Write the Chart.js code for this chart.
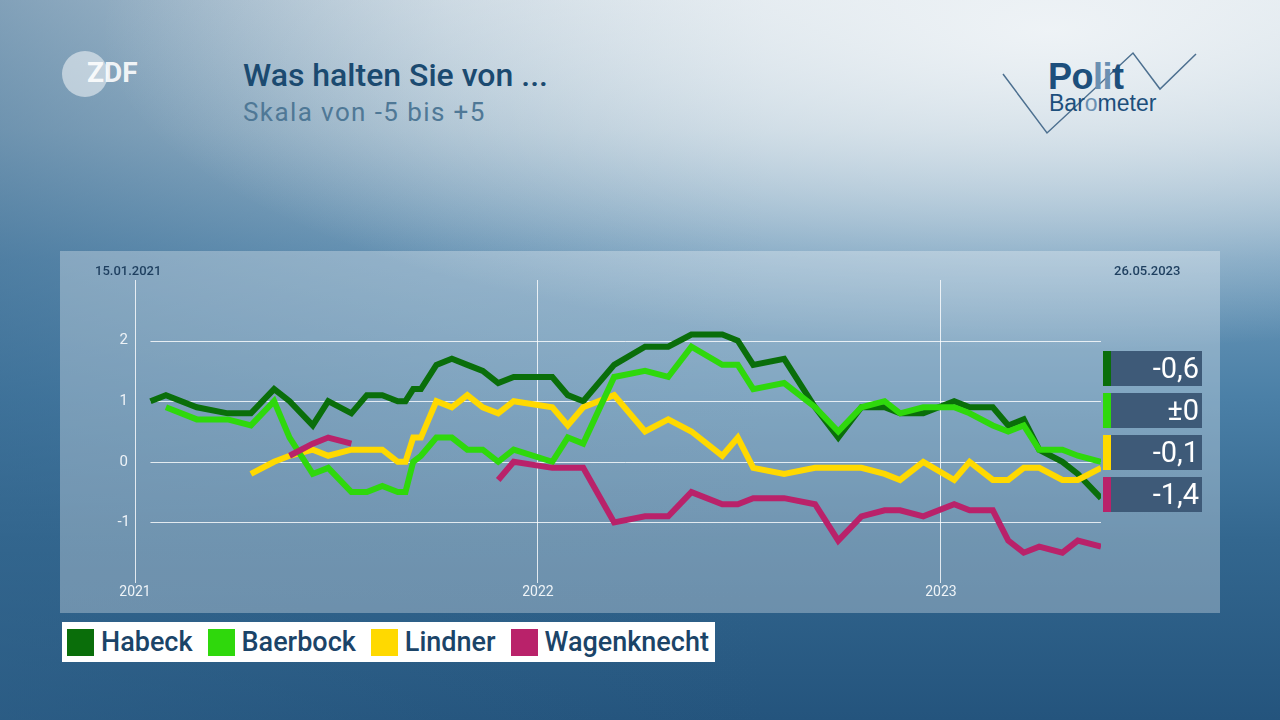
<!DOCTYPE html>
<html>
<head>
<meta charset="utf-8">
<script src="https://cdn.jsdelivr.net/npm/chart.js@4.4.0/dist/chart.umd.min.js"></script>
<style>
html, body { margin: 0; padding: 0; }
body {
    width: 1280px; height: 720px; overflow: hidden; position: relative;
    font-family: Roboto, "Noto Sans", sans-serif;
    background:
        radial-gradient(ellipse 950px 320px at 1050px 30px, rgba(240,244,247,0.95), rgba(240,244,247,0) 100%),
        linear-gradient(to right, rgba(50,100,140,0.5) 0%, rgba(50,100,140,0.15) 35%, rgba(50,100,140,0) 60%),
        linear-gradient(to bottom, #d2dee6 0%, #abc3d3 18%, #6e9aba 36%, #4b80a7 55%, #33678f 75%, #24547d 100%);
}
.abs { position: absolute; }
#zdf { left: 62px; top: 51px; width: 46px; height: 46px; border-radius: 50%; background: rgba(255,255,255,0.5); }
#zdfText { left: 87px; top: 56px; font: 700 28px Roboto, sans-serif; color: rgba(255,255,255,0.9); letter-spacing: 0px; }
#title { left: 243px; top: 56px; font: 500 32px Roboto, sans-serif; color: #1b4a70; }
#subtitle { left: 243px; top: 97px; font: 400 26px Roboto, sans-serif; color: #4f7896; letter-spacing: 1.4px; }
#logo { left: 990px; top: 40px; }
#polit { left: 1048px; top: 56px; font: 700 36px "Liberation Sans", Arial, sans-serif; color: #1d4f7c; letter-spacing: -0.5px; }
#baro { left: 1049px; top: 90px; font: 400 23px "Liberation Sans", Arial, sans-serif; color: #1d4f7c; }
.light { color: #6b90b2; }
#panel { left: 60px; top: 251px; width: 1160px; height: 362px; background: rgba(255,255,255,0.3); }
.date { font: 500 13px Roboto, sans-serif; color: #1e3f5f; top: 263px; }
.box { left: 1103px; width: 99px; height: 35px; background: #3e5a78; }
.box .strip { position: absolute; left: 0; top: 0; width: 8px; height: 35px; }
.box .val { position: absolute; right: 3px; top: 1px; font: 400 29px Roboto, sans-serif; color: #fff; line-height: 33px; }
#legend { left: 62px; top: 622px; height: 40px; background: #fff; display: flex; align-items: center; padding: 0 6px 0 5px; }
.item { display: flex; align-items: center; margin-right: 15px; }
.item:last-child { margin-right: 0; }
.sq { width: 27px; height: 27px; margin-right: 7px; }
.lab { font: 500 27px Roboto, sans-serif; color: #1b4468; }
</style>
</head>
<body>
<div id="zdf" class="abs"></div>
<div id="zdfText" class="abs">ZDF</div>
<div id="title" class="abs">Was halten Sie von ...</div>
<div id="subtitle" class="abs">Skala von -5 bis +5</div>
<svg id="logo" class="abs" width="220" height="110" viewBox="990 40 220 110">
    <polyline points="1003,74 1047,133 1133,53 1160,89 1196,54" fill="none" stroke="#4d7090" stroke-width="1.5"/>
</svg>
<div id="polit" class="abs">Po<span class="light">li</span>t</div>
<div id="baro" class="abs">Bar<span class="light">o</span>meter</div>

<div id="panel" class="abs"><canvas id="chart" width="1160" height="362"></canvas></div>
<div class="abs date" style="left:95px">15.01.2021</div>
<div class="abs date" style="left:1114px">26.05.2023</div>
<div id="boxes"></div>
<div id="legend" class="abs"></div>

<script>
// Politbarometer-Termine
const pollDates = [
    '2021-01-15', '2021-01-29', '2021-02-26', '2021-03-26', '2021-04-16', '2021-05-07',
    '2021-05-21', '2021-06-11', '2021-06-25', '2021-07-16', '2021-07-30', '2021-08-13',
    '2021-08-27', '2021-09-03', '2021-09-10', '2021-09-17', '2021-10-01', '2021-10-15',
    '2021-10-29', '2021-11-12', '2021-11-26', '2021-12-10', '2022-01-14', '2022-01-28',
    '2022-02-11', '2022-03-11', '2022-04-08', '2022-04-29', '2022-05-20', '2022-06-17',
    '2022-07-01', '2022-07-15', '2022-08-12', '2022-09-09', '2022-09-30', '2022-10-21',
    '2022-11-11', '2022-11-25', '2022-12-16', '2023-01-13', '2023-01-27', '2023-02-17',
    '2023-03-03', '2023-03-17', '2023-03-31', '2023-04-21', '2023-05-05', '2023-05-26'
];

const habeck = [
    1.0, 1.1, 0.9, 0.8, 0.8, 1.2,
    1.0, 0.6, 1.0, 0.8, 1.1, 1.1,
    1.0, 1.0, 1.2, 1.2, 1.6, 1.7,
    1.6, 1.5, 1.3, 1.4, 1.4, 1.1,
    1.0, 1.6, 1.9, 1.9, 2.1, 2.1,
    2.0, 1.6, 1.7, 0.9, 0.4, 0.9,
    0.9, 0.8, 0.8, 1.0, 0.9, 0.9,
    0.6, 0.7, 0.2, 0.0, -0.2, -0.6
];
const baerbock = [
    null, 0.9, 0.7, 0.7, 0.6, 1.0,
    0.4, -0.2, -0.1, -0.5, -0.5, -0.4,
    -0.5, -0.5, 0.0, 0.1, 0.4, 0.4,
    0.2, 0.2, 0.0, 0.2, 0.0, 0.4,
    0.3, 1.4, 1.5, 1.4, 1.9, 1.6,
    1.6, 1.2, 1.3, 0.9, 0.5, 0.9,
    1.0, 0.8, 0.9, 0.9, 0.8, 0.6,
    0.5, 0.6, 0.2, 0.2, 0.1, 0.0
];
const lindner = [
    null, null, null, null, -0.2, 0.0,
    0.1, 0.2, 0.1, 0.2, 0.2, 0.2,
    0.0, 0.0, 0.4, 0.4, 1.0, 0.9,
    1.1, 0.9, 0.8, 1.0, 0.9, 0.6,
    0.9, 1.1, 0.5, 0.7, 0.5, 0.1,
    0.4, -0.1, -0.2, -0.1, -0.1, -0.1,
    -0.2, -0.3, 0.0, -0.3, 0.0, -0.3,
    -0.3, -0.1, -0.1, -0.3, -0.3, -0.1
];
const wagenknecht = [
    null, null, null, null, null, null,
    0.1, 0.3, 0.4, 0.3, null, null,
    null, null, null, null, null, null,
    null, null, -0.3, 0.0, -0.1, -0.1,
    -0.1, -1.0, -0.9, -0.9, -0.5, -0.7,
    -0.7, -0.6, -0.6, -0.7, -1.3, -0.9,
    -0.8, -0.8, -0.9, -0.7, -0.8, -0.8,
    -1.3, -1.5, -1.4, -1.5, -1.3, -1.4
];

const names = ['Habeck', 'Baerbock', 'Lindner', 'Wagenknecht'];
const colors = ['#0a6e0a', '#2fd80c', '#ffd900', '#b9226a'];
const yearLabels = ['2021', '2022', '2023'];
const yTicks = [2, 1, 0, -1];

const dayOf = s => (Date.UTC(+s.slice(0, 4), +s.slice(5, 7) - 1, +s.slice(8, 10)) - Date.UTC(2021, 0, 1)) / 864e5;
const xs = pollDates.map(dayOf);
const series = [habeck, baerbock, lindner, wagenknecht];
const drawOrder = [3, 1, 2, 0]; // Baerbock über Habeck, Wagenknecht ganz oben

// horizontale Linien nur über den Umfragezeitraum
const hGrid = {
    id: 'hGrid',
    beforeDatasetsDraw(chart) {
        const { ctx, scales: { x, y } } = chart;
        const x0 = x.getPixelForValue(xs[0]);
        const x1 = x.getPixelForValue(xs[xs.length - 1]);
        ctx.save();
        ctx.strokeStyle = 'rgba(255,255,255,0.8)';
        ctx.lineWidth = 1;
        yTicks.forEach(t => {
            const py = Math.round(y.getPixelForValue(t)) + 0.5;
            ctx.beginPath();
            ctx.moveTo(x0, py);
            ctx.lineTo(x1, py);
            ctx.stroke();
        });
        ctx.restore();
    }
};

new Chart(document.getElementById('chart').getContext('2d'), {
    type: 'line',
    data: {
        datasets: series.map((arr, i) => ({
            label: names[i],
            data: arr.map((v, j) => ({ x: xs[j], y: v })),
            borderColor: colors[i],
            backgroundColor: colors[i],
            borderWidth: 6,
            borderJoinStyle: 'miter',
            pointRadius: 0,
            tension: 0,
            fill: false,
            spanGaps: false,
            order: drawOrder[i]
        }))
    },
    options: {
        responsive: false,
        animation: false,
        layout: { padding: { left: 50, right: 119, top: 29, bottom: 0 } },
        plugins: { legend: { display: false }, tooltip: { enabled: false } },
        scales: {
            x: {
                type: 'linear',
                min: 0,
                max: dayOf('2023-05-26'),
                afterBuildTicks: s => { s.ticks = yearLabels.map(y => ({ value: dayOf(y + '-01-01') })); },
                afterFit: s => { s.height = 30; },
                ticks: {
                    callback: (v, i) => yearLabels[i],
                    color: '#eef3f7',
                    font: { family: 'Roboto', size: 14 },
                    padding: 1,
                    maxRotation: 0
                },
                grid: { color: 'rgba(255,255,255,0.8)', lineWidth: 1, drawTicks: false },
                border: { display: false }
            },
            y: {
                min: -2,
                max: 3,
                afterBuildTicks: s => { s.ticks = yTicks.map(v => ({ value: v })); },
                afterFit: s => { s.width = 25; },
                ticks: {
                    color: '#eef3f7',
                    font: { family: 'Roboto', size: 15 },
                    crossAlign: 'center',
                    padding: 5
                },
                grid: { display: false, drawTicks: false },
                border: { display: false }
            }
        }
    },
    plugins: [hGrid]
});

// Endwerte rechts
const fmt = v => v === 0 ? '\u00b10' : v.toFixed(1).replace('.', ',');
const boxTops = [351, 393, 435, 477];
const boxes = document.getElementById('boxes');
series.forEach((arr, i) => {
    const b = document.createElement('div');
    b.className = 'abs box';
    b.style.top = boxTops[i] + 'px';
    b.innerHTML = '<div class="strip" style="background:' + colors[i] + '"></div><div class="val">' + fmt(arr[arr.length - 1]) + '</div>';
    boxes.appendChild(b);
});

// Legende
const legend = document.getElementById('legend');
names.forEach((n, i) => {
    const it = document.createElement('div');
    it.className = 'item';
    it.innerHTML = '<div class="sq" style="background:' + colors[i] + '"></div><div class="lab">' + n + '</div>';
    legend.appendChild(it);
});
</script>
</body>
</html>
